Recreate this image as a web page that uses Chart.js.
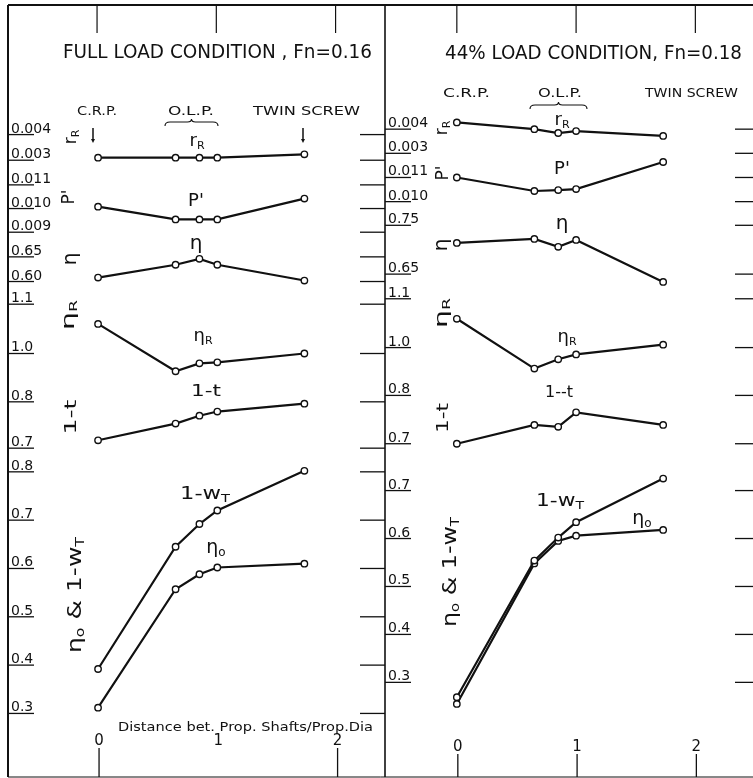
<!DOCTYPE html>
<html lang="en">
<head>
  <meta charset="UTF-8">
  <title>Propulsion factors vs shaft spacing</title>
  <script src="https://cdn.jsdelivr.net/npm/chart.js"></script>
  <style>
    body { margin: 0; background: #fff; }
    #plot { display: block; }
  </style>
</head>
<body>
  <canvas id="plot" width="753" height="778"></canvas>
  <script>
    // distance between prop shafts / prop dia : C.R.P., three O.L.P. cases, twin screw
    const spacing = [0, 0.65, 0.85, 1.0, 1.73];

    // full load condition, Fn = 0.16
    const fullRR   = [0.00310, 0.00310, 0.00310, 0.00310, 0.00323];
    const fullP    = [0.01008, 0.00954, 0.00954, 0.00954, 0.01042];
    const fullEta  = [0.608, 0.634, 0.646, 0.634, 0.602];
    const fullEtaR = [1.060, 0.964, 0.980, 0.982, 1.000];
    const fullT    = [0.717, 0.753, 0.770, 0.779, 0.796];
    const fullW    = [0.392, 0.645, 0.692, 0.720, 0.802];
    const fullEta0 = [0.312, 0.557, 0.588, 0.602, 0.610];

    // 44% load condition, Fn = 0.18
    const partRR   = [0.00428, 0.00400, 0.00384, 0.00392, 0.00372];
    const partP    = [0.01100, 0.01044, 0.01048, 0.01052, 0.01164];
    const partEta  = [0.714, 0.722, 0.706, 0.720, 0.634];
    const partEtaR = [1.059, 0.957, 0.976, 0.986, 1.006];
    const partT    = [0.700, 0.739, 0.735, 0.765, 0.739];
    const partW    = [0.269, 0.554, 0.602, 0.634, 0.725];
    const partEta0 = [0.255, 0.548, 0.595, 0.606, 0.618];

    // underlined tick labels on the left edge of each panel
    const fullRRTicks   = ['0.004', '0.003'];
    const fullPTicks    = ['0.011', '0.010', '0.009'];
    const fullEtaTicks  = ['0.65', '0.60'];
    const fullEtaRTicks = ['1.1', '1.0'];
    const fullTTicks    = ['0.8', '0.7'];
    const fullWTicks    = ['0.8', '0.7', '0.6', '0.5', '0.4', '0.3'];
    const partRRTicks   = ['0.004', '0.003'];
    const partPTicks    = ['0.011', '0.010'];
    const partEtaTicks  = ['0.75', '0.65'];
    const partEtaRTicks = ['1.1', '1.0'];
    const partTTicks    = ['0.8', '0.7'];
    const partWTicks    = ['0.7', '0.6', '0.5', '0.4', '0.3'];
    const xTicks = ['0', '1', '2'];

    const W = 753, H = 778;
    const FONT = '"DejaVu Sans", sans-serif';

    // where two values of each scale sit on the sheet: [v1, px1, v2, px2]
    const cal = {
      fullX:    [0, 94, 2, 336],
      partX:    [0, 458, 2, 700],
      fullRR:   [0.004, 131, 0.003, 157],
      fullP:    [0.011, 182, 0.009, 230],
      fullEta:  [0.65, 255, 0.60, 280],
      fullEtaR: [1.1, 303, 1.0, 353],
      fullT:    [0.8, 402, 0.7, 449],
      fullW:    [0.8, 473, 0.3, 718],
      partRR:   [0.004, 125.5, 0.003, 150],
      partP:    [0.011, 174.5, 0.010, 199],
      partEta:  [0.75, 223, 0.65, 272.5],
      partEtaR: [1.1, 297.5, 1.0, 347],
      partT:    [0.8, 395.5, 0.7, 444.5],
      partW:    [0.7, 492, 0.3, 686.5]
    };

    const scales = {};
    for (const [id, c] of Object.entries(cal)) {
      const horiz = id.endsWith('X');
      const s = (c[3] - c[1]) / (c[2] - c[0]);
      const at = p => c[0] + (p - c[1]) / s;
      scales[id] = {
        type: 'linear', axis: horiz ? 'x' : 'y', position: horiz ? 'bottom' : 'left',
        display: false, bounds: 'data',
        min: horiz ? at(0) : at(H), max: horiz ? at(W) : at(0)
      };
    }

    const series = (xId, yId, vals) => ({
      xAxisID: xId, yAxisID: yId,
      data: spacing.map((x, i) => ({ x, y: vals[i] })),
      borderColor: '#111', borderWidth: 2.2, tension: 0, fill: false,
      pointRadius: 3.2, pointBorderWidth: 1.4,
      pointBackgroundColor: '#fff', pointBorderColor: '#111'
    });

    const datasets = [
      series('fullX', 'fullRR', fullRR), series('fullX', 'fullP', fullP),
      series('fullX', 'fullEta', fullEta), series('fullX', 'fullEtaR', fullEtaR),
      series('fullX', 'fullT', fullT), series('fullX', 'fullW', fullW),
      series('fullX', 'fullW', fullEta0),
      series('partX', 'partRR', partRR), series('partX', 'partP', partP),
      series('partX', 'partEta', partEta), series('partX', 'partEtaR', partEtaR),
      series('partX', 'partT', partT), series('partX', 'partW', partW),
      series('partX', 'partW', partEta0)
    ];

    // text with "_X" subscripts, centred on (cx, cy)
    function label(ctx, str, cx, cy, size, width, rot) {
      const segs = [];
      for (let i = 0; i < str.length; i++) {
        if (str[i] === '_') { segs.push({ t: str[i + 1], sub: true }); i++; }
        else if (segs.length && !segs[segs.length - 1].sub) segs[segs.length - 1].t += str[i];
        else segs.push({ t: str[i], sub: false });
      }
      ctx.save();
      ctx.translate(cx, cy);
      if (rot) ctx.rotate(rot);
      let total = 0;
      segs.forEach(s => {
        ctx.font = (s.sub ? Math.round(size * 0.62) : size) + 'px ' + FONT;
        s.w = ctx.measureText(s.t).width;
        total += s.w;
      });
      if (width) ctx.scale(width / total, 1);
      let x = -total / 2;
      segs.forEach(s => {
        ctx.font = (s.sub ? Math.round(size * 0.62) : size) + 'px ' + FONT;
        ctx.fillText(s.t, x, s.sub ? size * 0.5 : size * 0.36);
        x += s.w;
      });
      ctx.restore();
    }

    // plain text from left x on baseline y, stretched to a width
    function fitText(ctx, str, x, y, width, size) {
      ctx.save();
      ctx.font = size + 'px ' + FONT;
      const w = ctx.measureText(str).width;
      ctx.translate(x, y);
      ctx.scale(width / w, 1);
      ctx.fillText(str, 0, 0);
      ctx.restore();
    }

    function line(ctx, x1, y1, x2, y2, lw) {
      ctx.lineWidth = lw || 1.3;
      ctx.beginPath(); ctx.moveTo(x1, y1); ctx.lineTo(x2, y2); ctx.stroke();
    }

    function brace(ctx, x1, x2, y) {
      const m = (x1 + x2) / 2;
      ctx.lineWidth = 1.1;
      ctx.beginPath();
      ctx.moveTo(x1, y + 5);
      ctx.quadraticCurveTo(x1, y + 1, x1 + 5, y + 1);
      ctx.lineTo(m - 4, y + 1);
      ctx.quadraticCurveTo(m, y + 1, m, y - 2);
      ctx.quadraticCurveTo(m, y + 1, m + 4, y + 1);
      ctx.lineTo(x2 - 5, y + 1);
      ctx.quadraticCurveTo(x2, y + 1, x2, y + 5);
      ctx.stroke();
    }

    const panels = [
      { ids: ['fullRR', 'fullP', 'fullEta', 'fullEtaR', 'fullT', 'fullW'],
        ticks: [fullRRTicks, fullPTicks, fullEtaTicks, fullEtaRTicks, fullTTicks, fullWTicks],
        axisX: 8, rightTick: [360, 385] },
      { ids: ['partRR', 'partP', 'partEta', 'partEtaR', 'partT', 'partW'],
        ticks: [partRRTicks, partPTicks, partEtaTicks, partEtaRTicks, partTTicks, partWTicks],
        axisX: 385, rightTick: [735, 753] }
    ];

    const sheet = {
      id: 'sheet',
      afterDatasetsDraw(chart) {
        const ctx = chart.ctx;
        ctx.save();
        ctx.strokeStyle = '#111';
        ctx.fillStyle = '#111';
        ctx.textAlign = 'left';
        ctx.textBaseline = 'alphabetic';

        // frame
        line(ctx, 8, 5, W, 5, 2);
        line(ctx, 8, 5, 8, 777, 2);
        line(ctx, 385, 5, 385, 777, 1.6);
        line(ctx, 8, 777, W, 777, 1);

        // top ticks at 0, 1, 2
        [0, 1, 2].forEach(v => {
          line(ctx, chart.scales.fullX.getPixelForValue(v) - 1, 5, chart.scales.fullX.getPixelForValue(v) - 1, 33, 1.2);
          line(ctx, chart.scales.partX.getPixelForValue(v), 5, chart.scales.partX.getPixelForValue(v), 33, 1.2);
        });

        // left scales: underlined labels + matching ticks on the far side
        panels.forEach(p => {
          p.ids.forEach((id, k) => {
            p.ticks[k].forEach(t => {
              const y = chart.scales[id].getPixelForValue(parseFloat(t));
              line(ctx, p.axisX, y, p.axisX + 26, y, 1.3);
              ctx.font = '14px ' + FONT;
              ctx.fillText(t, p.axisX + 3, y - 2);
              line(ctx, p.rightTick[0], y, p.rightTick[1], y, 1.3);
            });
          });
        });

        // titles and group headings
        fitText(ctx, 'FULL LOAD CONDITION , Fn=0.16', 63, 58, 309, 19);
        fitText(ctx, '44% LOAD CONDITION, Fn=0.18', 445, 59, 297, 19);
        fitText(ctx, 'C.R.P.', 77, 115, 40, 13);
        fitText(ctx, 'O.L.P.', 168, 115, 46, 13);
        fitText(ctx, 'TWIN SCREW', 253, 115, 107, 13);
        fitText(ctx, 'C.R.P.', 443, 97, 47, 13);
        fitText(ctx, 'O.L.P.', 538, 97, 44, 13);
        fitText(ctx, 'TWIN SCREW', 645, 97, 93, 13);
        brace(ctx, 165, 218, 121);
        brace(ctx, 530, 587, 104);

        // markers under C.R.P. and TWIN SCREW
        [93, 303].forEach(x => {
          line(ctx, x, 128, x, 140, 1.5);
          ctx.beginPath(); ctx.moveTo(x - 2, 139); ctx.lineTo(x + 2, 139); ctx.lineTo(x, 143); ctx.fill();
        });

        // rotated quantity names
        const R = -Math.PI / 2;
        label(ctx, 'r_R', 70, 137, 17, 0, R);
        label(ctx, "P'", 68, 197, 17, 0, R);
        label(ctx, 'η', 69, 259, 20, 0, R);
        label(ctx, 'η_R', 68, 315, 18, 30, R);
        label(ctx, '1-t', 70, 417, 16, 35, R);
        label(ctx, 'η_o & 1-w_T', 74, 595, 19, 116, R);
        label(ctx, 'r_R', 441, 128, 17, 0, R);
        label(ctx, "P'", 442, 173, 17, 0, R);
        label(ctx, 'η', 440, 245, 20, 0, R);
        label(ctx, 'η_R', 441, 313, 18, 30, R);
        label(ctx, '1-t', 442, 418, 16, 30, R);
        label(ctx, 'η_o & 1-w_T', 449, 572, 19, 110, R);

        // curve names
        label(ctx, 'r_R', 197, 140, 18);
        label(ctx, "P'", 196, 200, 18);
        label(ctx, 'η', 196, 242, 20);
        label(ctx, 'η_R', 203, 335, 18);
        label(ctx, '1-t', 206, 391, 15, 30);
        label(ctx, '1-w_T', 205, 493, 17, 50);
        label(ctx, 'η_o', 216, 546, 19);
        label(ctx, 'r_R', 562, 119, 18);
        label(ctx, "P'", 562, 168, 18);
        label(ctx, 'η', 562, 222, 20);
        label(ctx, 'η_R', 567, 336, 18);
        label(ctx, '1--t', 559, 392, 15, 28);
        label(ctx, '1-w_T', 560, 500, 17, 48);
        label(ctx, 'η_o', 642, 517, 19);

        // x axis
        fitText(ctx, 'Distance bet. Prop. Shafts/Prop.Dia', 118, 731, 255, 13);
        ctx.textAlign = 'center';
        ctx.font = '15px ' + FONT;
        xTicks.forEach(t => {
          const v = parseFloat(t);
          const xl = chart.scales.fullX.getPixelForValue(v) + 1;
          const xr = chart.scales.partX.getPixelForValue(v) + 1;
          ctx.fillText(t, xl, 745);
          ctx.fillText(t, xr, 751);
          if (v !== 1) line(ctx, xl, 748, xl, 777, 1.3);
          line(ctx, xr, 754, xr, 777, 1.3);
        });
        ctx.restore();
      }
    };

    new Chart(document.getElementById('plot'), {
      type: 'line',
      data: { datasets },
      options: {
        responsive: false,
        animation: false,
        events: [],
        layout: { padding: 0 },
        scales,
        plugins: { legend: { display: false }, tooltip: { enabled: false }, title: { display: false } }
      },
      plugins: [sheet]
    });
  </script>
</body>
</html>
